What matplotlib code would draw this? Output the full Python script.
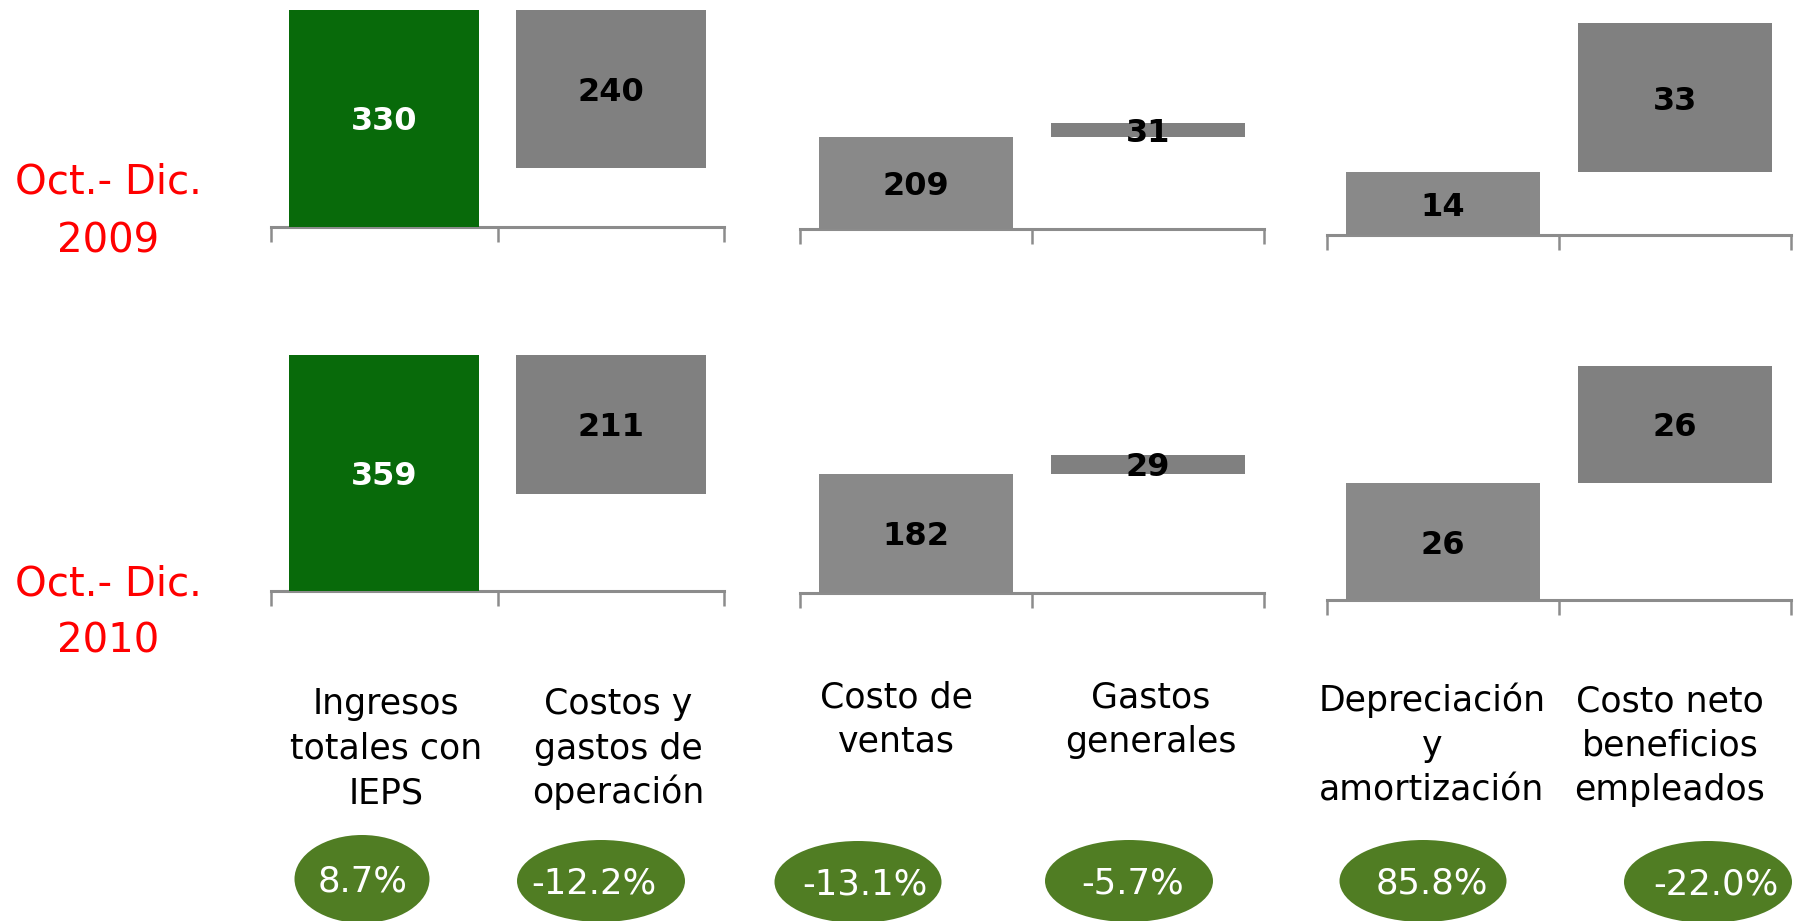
import matplotlib
matplotlib.use("Agg")
import matplotlib.pyplot as plt
from matplotlib.patches import Ellipse

# ---------------- data ----------------
categories = ["Ingresos\ntotales con\nIEPS", "Costos y\ngastos de\noperación",
              "Costo de\nventas", "Gastos\ngenerales",
              "Depreciación\ny\namortización", "Costo neto\nbeneficios\nempleados"]
values_2009 = [330, 240, 209, 31, 14, 33]
values_2010 = [359, 211, 182, 29, 26, 26]
changes = ["8.7%", "-12.2%", "-13.1%", "-5.7%", "85.8%", "-22.0%"]
period_labels = ["Oct.- Dic.\n2009", "Oct.- Dic.\n2010"]

# ---------------- layout (pixels) ----------------
W, H = 1796, 921
plt.rcParams['font.family'] = ['DejaVu Sans']
fig = plt.figure(figsize=(W / 100, H / 100), dpi=100)

panel_x = [(271, 724), (800, 1264), (1327, 1791)]
row_base = [[227, 229, 235], [591, 593, 600]]
row_top = [0, 300]
px_per_unit = [[0.658, 0.44, 4.5], [0.658, 0.654, 4.5]]

GREEN = "#086A0A"
GRAY_A = "#898989"
GRAY_B = "#808080"
AXIS_GRAY = "#8C8C8C"
OVAL = "#507D23"

rows = [values_2009, values_2010]
for r, vals_all in enumerate(rows):
    for p in range(3):
        x0, x1 = panel_x[p]
        base = row_base[r][p]
        top = row_top[r]
        ax = fig.add_axes([x0 / W, 1 - base / H, (x1 - x0) / W, (base - top) / H])
        ax.set_facecolor("none")
        ax.set_xlim(-0.5, 1.5)
        ax.set_ylim(0, (base - top) / px_per_unit[r][p])
        vals = vals_all[2 * p:2 * p + 2]
        if p == 0:
            bottoms = [0, vals[0] - vals[1]]
            colors = [GREEN, GRAY_B]
            tcolors = ["white", "black"]
        else:
            bottoms = [0, vals[0]]
            colors = [GRAY_A, GRAY_B]
            tcolors = ["black", "black"]
        ax.bar([0, 1], vals, bottom=bottoms, width=0.84, color=colors, zorder=2)
        for i in range(2):
            ax.text(i, bottoms[i] + vals[i] / 2, f"{vals[i]}", ha="center",
                    va="center_baseline", fontsize=23, fontweight="bold",
                    color=tcolors[i], zorder=3)
        for s in ["top", "left", "right"]:
            ax.spines[s].set_visible(False)
        ax.spines["bottom"].set_color(AXIS_GRAY)
        ax.spines["bottom"].set_linewidth(2.2)
        ax.spines["bottom"].set_zorder(1)
        ax.set_xticks([-0.5, 0.5, 1.5])
        ax.set_yticks([])
        ax.tick_params(axis="x", length=11, width=1.8, color=AXIS_GRAY,
                       labelbottom=False, direction="out")

# overlay in pixel coordinates
ov = fig.add_axes([0, 0, 1, 1])
ov.set_facecolor("none")
ov.set_xlim(0, W)
ov.set_ylim(H, 0)
ov.axis("off")

# period labels
period_baselines = [(193, 252), (595, 652)]
for lab, bl in zip(period_labels, period_baselines):
    for line, y in zip(lab.split("\n"), bl):
        ov.text(108, y, line, ha="center", va="baseline", fontsize=29, color="red")

# category labels
label_x = [386, 618, 896, 1151, 1432, 1670]
first_baseline = [714, 714, 707, 707, 711, 711]
line_step = 44.5
for lab, x, y0 in zip(categories, label_x, first_baseline):
    for k, line in enumerate(lab.split("\n")):
        ov.text(x, y0 + k * line_step, line, ha="center", va="baseline",
                fontsize=25, color="black")

# change ovals
oval_x = [362, 601, 858, 1129, 1423, 1708]
oval_w = [135, 168, 167, 168, 167, 168]
oval_h = [88, 82, 82, 82, 82, 82]
oval_y = [879, 881, 882, 881, 881, 882]
text_x = [363, 594, 865, 1133, 1432, 1716]
for txt, x, w, h, y, tx in zip(changes, oval_x, oval_w, oval_h, oval_y, text_x):
    ov.add_patch(Ellipse((x, y), w, h, facecolor=OVAL, edgecolor="none"))
    ov.text(tx, y + 12, txt, ha="center", va="baseline", fontsize=25.5, color="white")

fig.savefig("out.png", dpi=100)
